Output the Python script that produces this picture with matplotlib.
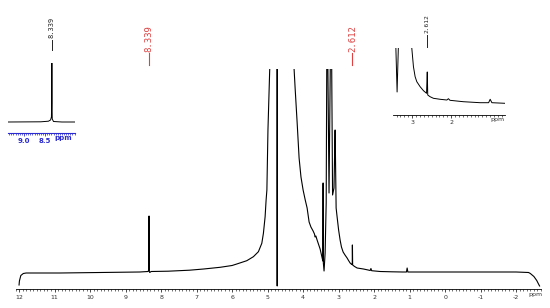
import matplotlib.pyplot as plt
from matplotlib.ticker import MultipleLocator

# main spectrum (ppm, intensity)
main_ppm = [12.0, 11.99, 11.95, 11.88, 11.80, 10.85, 9.72, 8.6, 8.37, 8.342, 8.339,
            8.336, 8.32, 8.28, 7.8, 7.2, 6.8, 6.338, 6.0, 5.868, 5.586, 5.40, 5.259,
            5.163, 5.118, 5.07, 5.042, 5.02, 4.99, 4.94, 4.90, 4.733, 4.73, 4.727,
            4.30, 4.254, 4.225, 4.169, 4.113, 4.06, 4.0, 3.94, 3.887, 3.831, 3.78,
            3.718, 3.68, 3.662, 3.64, 3.606, 3.521, 3.47, 3.445, 3.438, 3.436,
            3.43, 3.41, 3.38, 3.35, 3.324, 3.27, 3.211, 3.17, 3.13, 3.1, 3.098,
            3.07, 3.042, 3.0, 2.958, 2.92, 2.873, 2.82, 2.761, 2.72, 2.676, 2.63,
            2.615, 2.613, 2.611, 2.605, 2.55, 2.479, 2.3, 2.169, 2.11, 2.09, 2.07,
            1.831, 1.5, 1.2, 1.09, 1.07, 1.05, 0.5, -1.0, -2.0, -2.35, -2.4, -2.5,
            -2.58, -2.63, -2.66]
main_int = [-2, 2, 7.5, 9.5, 10, 10, 10.5, 11, 11.5, 13, 67,
            12, 10.5, 11.5, 11.8, 12.8, 14, 15.7, 17.5, 19, 22.3, 26.3, 31.3,
            39.7, 49.7, 66.3, 83, 93, 153, 214, 300, 300, -3, 300,
            300, 214, 195, 161, 125, 106, 93, 83, 75, 61, 56,
            52, 49, 46, 47, 43, 34, 26, 22, 100, 100,
            20, 12, 30, 80, 300, 90, 300, 88, 95, 153, 153,
            75, 66, 53, 43, 36, 31, 28, 25, 22.5, 20, 18.5,
            19, 38, 38, 18, 16.5, 15, 14, 13, 12.5, 14.5, 12.3,
            11.5, 11.2, 11, 11, 15, 11, 11, 11, 11, 10.5, 9.5, 6.5,
            2.5, -1, -3]

# left inset (8.339 region)
ins1_ppm = [9.38, 8.6, 8.42, 8.37, 8.35, 8.343, 8.339, 8.335, 8.33, 8.30, 8.1, 7.79]
ins1_int = [11, 11.2, 11.8, 13, 16, 30, 70, 30, 14, 11.5, 11, 11]

# right inset (2.612 region)
ins2_ppm = [3.49, 3.44, 3.385, 3.33, 3.05, 3.008, 2.966, 2.923, 2.88, 2.795, 2.709,
            2.63, 2.613, 2.611, 2.60, 2.54, 2.454, 2.28, 2.11, 2.07, 2.03, 1.69,
            1.256, 1.04, 1.0, 0.956, 0.62]
ins2_int = [100, 100, 23, 100, 100, 66.7, 48.3, 38.3, 33.3, 28.3, 24.3,
            21.7, 43, 43, 20, 18.3, 16.7, 15.7, 15, 16.3, 14.7, 13.3,
            12.3, 12.3, 15.7, 12.3, 11.7]

main_ticks = list(range(-2, 13))
ins1_ticks = [9.0, 8.5]
ins2_ticks = [3, 2]

red = '#e04040'
blue = '#2a2ad0'
mono = 'DejaVu Sans Mono'

fig = plt.figure(figsize=(5.5, 3.08), dpi=100)

# main axes
ax = fig.add_axes([15.5 / 550, 19 / 308, 525.5 / 550, 220 / 308])
ax.plot(main_ppm, main_int, color='black', lw=0.8)
ax.set_xlim(12.1, -2.7)
ax.set_ylim(-6, 214)
for s in ['top', 'left', 'right']:
    ax.spines[s].set_visible(False)
ax.spines['bottom'].set_linewidth(0.6)
ax.set_yticks([])
ax.set_xticks(main_ticks)
ax.set_xticklabels([str(t) for t in main_ticks])
ax.xaxis.set_minor_locator(MultipleLocator(0.1))
ax.tick_params(axis='x', which='major', length=2.5, width=0.5, pad=1.5,
               labelsize=4.5, labelcolor='#333333')
ax.tick_params(axis='x', which='minor', length=1.5, width=0.4)
ax.text(-2.55, -0.012, 'ppm', transform=ax.get_xaxis_transform(), ha='center',
        va='top', fontsize=4.5, color='#333333')

# red peak labels
for p in [8.339, 2.612]:
    ax.plot([p, p], [1.018, 1.073], color=red, lw=0.8, clip_on=False,
            transform=ax.get_xaxis_transform())
    ax.text(p, 1.078, f'{p:.3f}', transform=ax.get_xaxis_transform(), rotation=90,
            ha='center', va='bottom', fontsize=6.5, color=red, family=mono)

# left inset
a1 = fig.add_axes([8 / 550, (308 - 133) / 308, 67 / 550, 70 / 308])
a1.plot(ins1_ppm, ins1_int, color='black', lw=0.7)
a1.set_xlim(9.38, 7.79)
a1.set_ylim(0, 70)
for s in ['top', 'left', 'right']:
    a1.spines[s].set_visible(False)
a1.spines['bottom'].set_color(blue)
a1.spines['bottom'].set_linewidth(0.8)
a1.set_yticks([])
a1.set_xticks(ins1_ticks)
a1.set_xticklabels(['9.0', '8.5'])
a1.xaxis.set_minor_locator(MultipleLocator(0.05))
a1.tick_params(axis='x', which='major', length=2, width=0.6, color=blue, pad=1.5,
               labelsize=5, labelcolor=blue)
a1.tick_params(axis='x', which='minor', length=1.3, width=0.5, color=blue)
for lab in a1.get_xticklabels():
    lab.set_fontweight('bold')
a1.text(8.07, -0.03, 'ppm', transform=a1.get_xaxis_transform(), ha='center',
        va='top', fontsize=5, color=blue, fontweight='bold')
a1.plot([8.339, 8.339], [1.19, 1.33], color='#222222', lw=0.7, clip_on=False,
        transform=a1.get_xaxis_transform())
a1.text(8.339, 1.36, '8.339', transform=a1.get_xaxis_transform(), rotation=90,
        ha='center', va='bottom', fontsize=5, color='#222222', family=mono)

# right inset
a2 = fig.add_axes([393 / 550, (308 - 115) / 308, 112 / 550, 67 / 308])
a2.plot(ins2_ppm, ins2_int, color='black', lw=0.7)
a2.set_xlim(3.49, 0.62)
a2.set_ylim(0, 67)
for s in ['top', 'left', 'right']:
    a2.spines[s].set_visible(False)
a2.spines['bottom'].set_linewidth(0.6)
a2.set_yticks([])
a2.set_xticks(ins2_ticks)
a2.set_xticklabels(['3', '2'])
a2.xaxis.set_minor_locator(MultipleLocator(0.1))
a2.tick_params(axis='x', which='major', length=2, width=0.5, pad=1.5,
               labelsize=4.5, labelcolor='#333333')
a2.tick_params(axis='x', which='minor', length=1.3, width=0.4)
a2.text(0.82, -0.03, 'ppm', transform=a2.get_xaxis_transform(), ha='center',
        va='top', fontsize=4.5, color='#333333')
a2.plot([2.612, 2.612], [1.02, 1.2], color='#222222', lw=0.7, clip_on=False,
        transform=a2.get_xaxis_transform())
a2.text(2.612, 1.23, '2.612', transform=a2.get_xaxis_transform(), rotation=90,
        ha='center', va='bottom', fontsize=4.5, color='#222222', family=mono)

fig.savefig('out.png', dpi=100)
